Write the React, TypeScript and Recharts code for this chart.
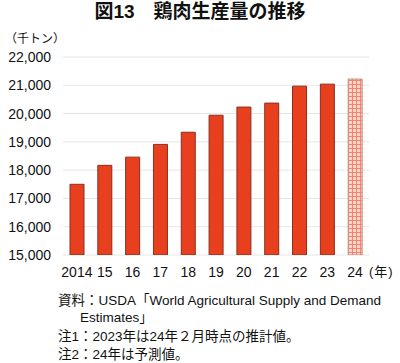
import React from "react"
import { BarChart, Bar, XAxis, YAxis, CartesianGrid, Cell } from "recharts"

const years = ["2014", "15", "16", "17", "18", "19", "20", "21", "22", "23", "24"]
const production = [17500, 18170, 18460, 18910, 19340, 19940, 20230, 20370, 20970, 21040, 21220]
const yTicks = [15000, 16000, 17000, 18000, 19000, 20000, 21000, 22000]
const forecastYear = "24"

const data = years.map((year, i) => ({ year, value: production[i] }))

const font = "'Liberation Sans', 'Noto Sans CJK JP', sans-serif"

export default function App() {
  return (
    <div style={{ position: "absolute", left: 0, top: 0, width: 400, height: 363, background: "#fff", fontFamily: font, color: "#111", overflow: "hidden" }}>
      <div style={{ position: "absolute", top: 1, left: 0, width: 400, textAlign: "center", fontSize: 19, fontWeight: "bold", lineHeight: "22px" }}>
        図13　鶏肉生産量の推移
      </div>
      <div style={{ position: "absolute", top: 30, left: 5, fontSize: 12, lineHeight: "18px" }}>（千トン）</div>

      <BarChart width={400} height={363} data={data} margin={{ top: 57, right: 31, bottom: 78, left: 8 }}>
        <defs>
          <pattern id="plaid" width="4" height="4" patternUnits="userSpaceOnUse">
            <rect width="4" height="4" fill="#fbd6cd" />
            <line x1="0.5" y1="0" x2="0.5" y2="4" stroke="#f0846e" strokeWidth="1" />
            <line x1="0" y1="0.5" x2="4" y2="0.5" stroke="#f0846e" strokeWidth="1" />
          </pattern>
        </defs>
        <CartesianGrid vertical={false} stroke="#e6e6e6" />
        <XAxis
          dataKey="year"
          axisLine={false}
          tickLine={false}
          tickMargin={6}
          interval={0}
          tick={{ fill: "#111", fontSize: 14, fontFamily: font }}
        />
        <YAxis
          width={55}
          domain={[15000, 22000]}
          ticks={yTicks}
          allowDataOverflow
          axisLine={false}
          tickLine={false}
          tickMargin={6}
          tickFormatter={(v: number) => v.toLocaleString("en-US")}
          tick={{ fill: "#111", fontSize: 14, fontFamily: font }}
        />
        <Bar dataKey="value" barSize={14} isAnimationActive={false}>
          {data.map((d) => (
            <Cell
              key={d.year}
              fill={d.year === forecastYear ? "url(#plaid)" : "#e8401e"}
              stroke={d.year === forecastYear ? "#cc8a7a" : "#8a2e1e"}
              strokeWidth={1}
            />
          ))}
        </Bar>
      </BarChart>

      <div style={{ position: "absolute", top: 264, left: 369, fontSize: 13, lineHeight: "16px", letterSpacing: "1px", whiteSpace: "nowrap" }}>(年)</div>

      <div style={{ position: "absolute", top: 292, left: 58, fontSize: 13.5, lineHeight: "17px" }}>
        <div>資料：USDA「World Agricultural Supply and Demand</div>
        <div style={{ paddingLeft: 22 }}>Estimates」</div>
        <div style={{ marginTop: 2 }}>注1：2023年は24年２月時点の推計値。</div>
        <div style={{ marginTop: 1 }}>注2：24年は予測値。</div>
      </div>
    </div>
  )
}
